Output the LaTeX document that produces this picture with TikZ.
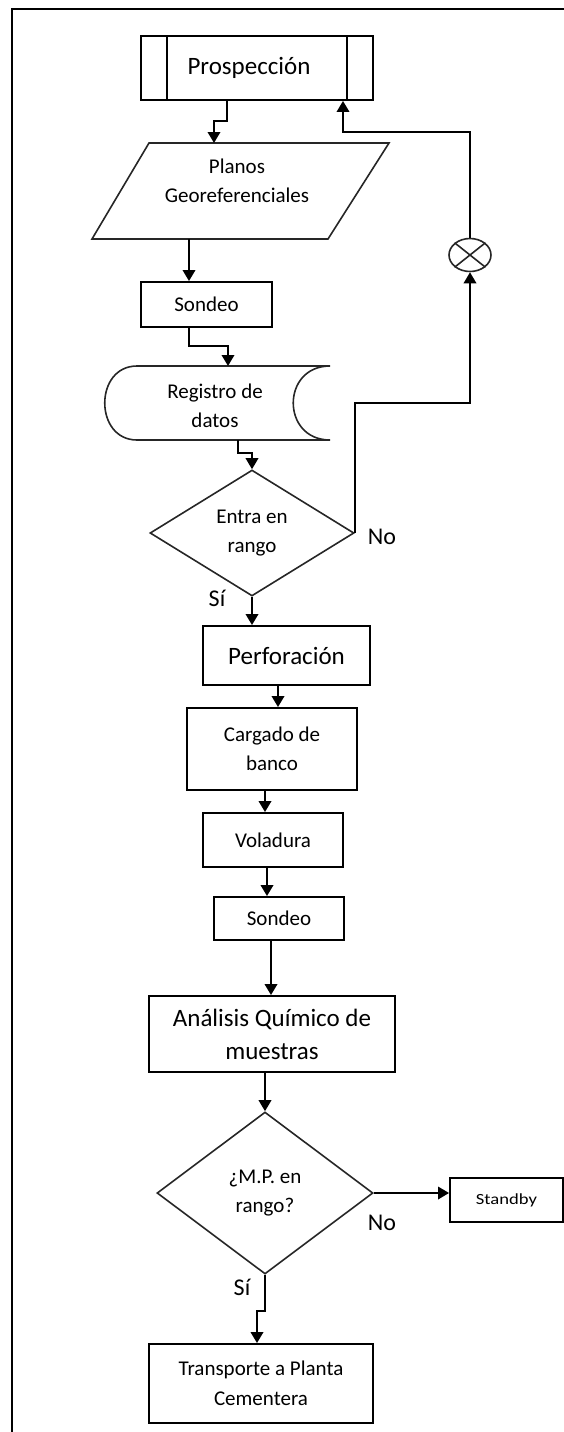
\documentclass[tikz,border=0pt]{standalone}
\usepackage{fontspec}
\setmainfont{Carlito}
\usetikzlibrary{arrows.meta,shapes.geometric}

\newcommand\txtS{\fontsize{21}{29.5}\selectfont}
\newcommand\txtL{\fontsize{25}{33}\selectfont}
\newcommand\txtN{\fontsize{24}{28}\selectfont}
\newcommand\txtT{\fontsize{15.5}{18}\selectfont}

\tikzset{
  arr/.style={line width=1.9pt, -{Triangle[width=12.5pt,length=11pt]}},
  box/.style={draw, line width=1.9pt, rectangle, inner sep=0pt, align=center},
  outline/.style={draw=black!85, line width=1.6pt},
  decision/.style={outline, diamond, inner sep=0pt, align=center, font=\txtS},
  lbl/.style={font=\txtN, inner sep=0pt},
}

\begin{document}
\begin{tikzpicture}[x=1pt,y=-1pt]
\useasboundingbox (0,0) rectangle (564,1432);

% page frame (runs past the right and bottom edges)
\draw[line width=2pt] (12,9) rectangle (640,1490);

% predefined process
\node[box, minimum width=232pt, minimum height=64pt, font=\txtL] (prosp) at (257,68) {\hspace*{-16pt}Prospección};
\draw[line width=1.9pt] ([xshift=27pt]prosp.north west) -- ([xshift=27pt]prosp.south west);
\draw[line width=1.9pt] ([xshift=-27pt]prosp.north east) -- ([xshift=-27pt]prosp.south east);

% data (parallelogram)
\coordinate (pa1) at (149,143);
\coordinate (pa2) at (389,143);
\coordinate (pa3) at (328,239);
\coordinate (pa4) at (92,239);
\draw[outline] (pa1) -- (pa2) -- (pa3) -- (pa4) -- cycle;
\node[font=\txtS, align=center, inner sep=0pt] (planos) at (237,181) {Planos\\Georeferenciales};
\coordinate (planos-in) at (214,143);
\coordinate (planos-out) at (189,239);

\node[box, minimum width=131pt, minimum height=45pt, font=\txtS] (son1) at (206.5,304.5) {Sondeo};

% stored data
\draw[outline] (137,366) -- (330,366)
  .. controls (281,366) and (281,440) .. (330,440)
  -- (137,440)
  .. controls (94,440) and (94,366) .. (137,366) -- cycle;
\node[font=\txtS, align=center, inner sep=0pt] (reg) at (215,406) {Registro de\\datos};
\coordinate (reg-in) at (228,366);
\coordinate (reg-out) at (238,440);

\node[decision, minimum width=204pt, minimum height=126pt] (d1) at (252,533) {Entra en\\rango};

% summing junction
\node[outline, ellipse, minimum width=42pt, minimum height=33pt, inner sep=0pt] (junc) at (470,255) {};
\draw[outline] (junc.north east) -- (junc.south west);
\draw[outline] (junc.north west) -- (junc.south east);

\node[box, minimum width=167pt, minimum height=59pt, font=\txtL] (perf) at (286.5,655.5) {Perforación};
\node[box, minimum width=170pt, minimum height=82pt, font=\txtS] (carg) at (272,749) {Cargado de\\banco};
\node[box, minimum width=140pt, minimum height=54pt, font=\txtS] (vol) at (273,840) {Voladura};
\node[box, minimum width=130pt, minimum height=43pt, font=\txtS] (son2) at (279,918.5) {Sondeo};
\node[box, minimum width=246pt, minimum height=76pt, font=\txtL] (anal) at (272,1034) {Análisis Químico de\\muestras};
\node[decision, minimum width=216pt, minimum height=162pt] (d2) at (265,1193) {¿M.P. en\\rango?};
\node[box, minimum width=113pt, minimum height=44pt] (stby) at (506.5,1200) {\txtT\scalebox{1.2}[1]{Standby}};
\node[box, minimum width=224pt, minimum height=79pt, font=\txtS] (transp) at (261,1383.5) {Transporte a Planta\\Cementera};

% branch labels
\node[lbl] (no1) at (382,537) {No};
\node[lbl] (si1) at (217,598) {Sí};
\node[lbl] (no2) at (382,1223) {No};
\node[lbl] (si2) at (242,1287) {Sí};

% connectors
\draw[arr] ([xshift=-30pt]prosp.south) -- ++(0,20) -| (planos-in);
\draw[arr] (planos-out) -- (planos-out |- son1.north);
\draw[arr] ([xshift=-17.5pt]son1.south) -- ++(0,18) -| (reg-in);
\draw[arr] (reg-out) -- ++(0,13) -| (d1.north);
\draw[arr] (d1.south) -- (d1.south |- perf.north);
\draw[arr] (d1.east) -- ++(0,-130) -| (junc.south);
\draw[arr] (junc.north) -- ++(0,-106) -| ([xshift=86pt]prosp.south);
\draw[arr] ([xshift=-8.5pt]perf.south) -- ([xshift=-8.5pt]perf.south |- carg.north);
\draw[arr] ([xshift=-7pt]carg.south) -- ([xshift=-7pt]carg.south |- vol.north);
\draw[arr] ([xshift=-6pt]vol.south) -- ([xshift=-6pt]vol.south |- son2.north);
\draw[arr] ([xshift=-8pt]son2.south) -- ([xshift=-8pt]son2.south |- anal.north);
\draw[arr] (anal.south -| d2.north) -- (d2.north);
\draw[arr] (d2.east) -- (d2.east -| stby.west);
\draw[arr] (d2.south) -- ++(0,36) -| ([xshift=-4pt]transp.north);
\end{tikzpicture}
\end{document}
